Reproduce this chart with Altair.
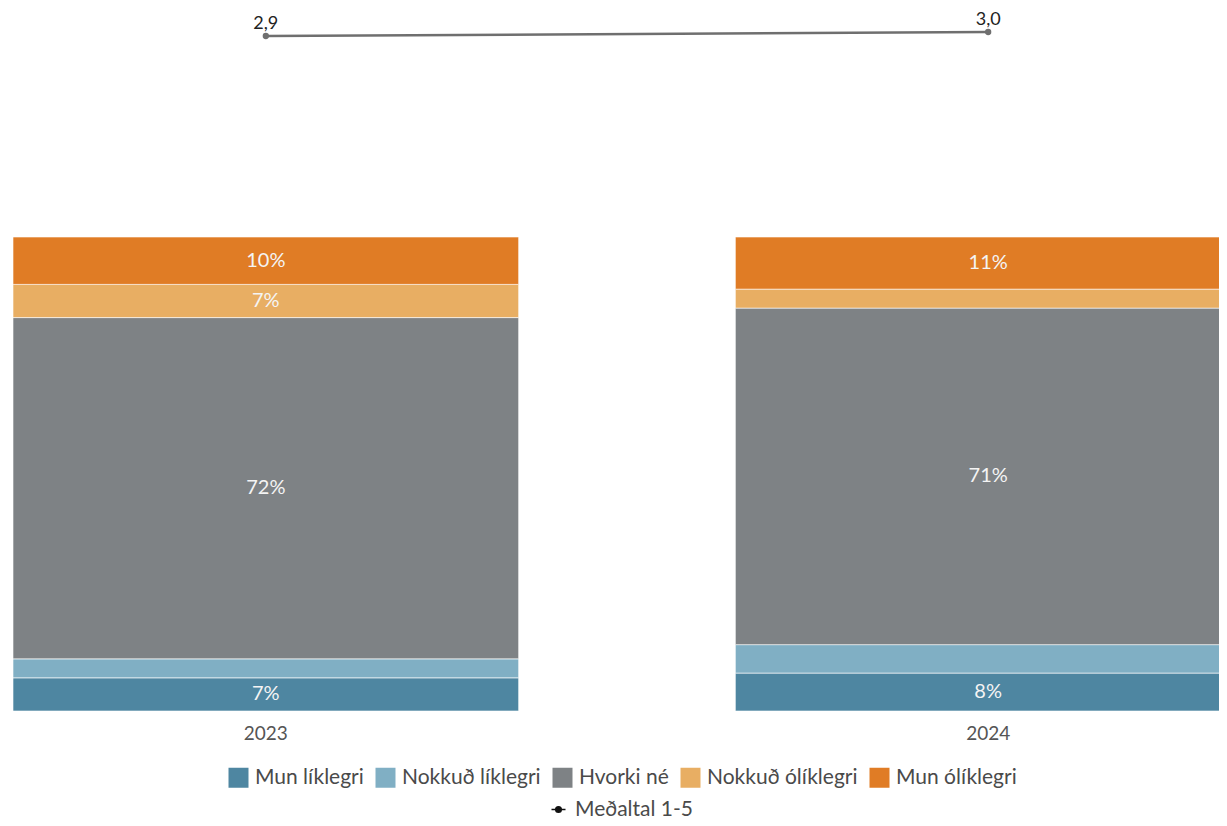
import altair as alt
import pandas as pd

years = ["2023", "2024"]
categories = ["Mun líklegri", "Nokkuð líklegri", "Hvorki né", "Nokkuð ólíklegri", "Mun ólíklegri"]
colors = ["#4e86a1", "#80afc4", "#7e8285", "#e8ae63", "#e07c25"]
values_2023 = [7, 4, 72, 7, 10]
values_2024 = [8, 6, 71, 4, 11]
means = [2.91, 2.96]
mean_labels = ["2,9", "3,0"]
mean_series = "Meðaltal 1-5"

rows = []
for yr, vals in zip(years, [values_2023, values_2024]):
    for i, (c, v) in enumerate(zip(categories, vals)):
        rows.append({"year": yr, "cat": c, "ord": i, "value": v, "label": f"{v}%"})
df = pd.DataFrame(rows)
mdf = pd.DataFrame({"year": years, "mean": means, "label": mean_labels,
                    "series": [mean_series] * len(years)})

FONT = "Lato"
W, H = 1206, 700

x = alt.X("year:N", sort=years,
          scale=alt.Scale(range=[0, 1228], paddingInner=0.3, paddingOuter=0),
          axis=alt.Axis(title=None, labelAngle=0, domain=False, ticks=False,
                        labelFontSize=19, labelColor="#555555", labelPadding=13,
                        labelFont=FONT))

ybar = alt.Scale(domain=[0, 100 * 700 / 474], nice=False, zero=False)
ymean = alt.Scale(domain=[-5.5275, 3.2225], nice=False, zero=False)

bars = alt.Chart(df).mark_bar(stroke="white", strokeWidth=0.6, clip=True).encode(
    x=x,
    y=alt.Y("value:Q", stack="zero", scale=ybar, axis=None),
    fill=alt.Fill("cat:N", sort=categories,
                  scale=alt.Scale(domain=categories, range=colors),
                  legend=alt.Legend(title=None, orient="none", direction="horizontal",
                                    legendX=215, legendY=756, symbolType="square",
                                    symbolSize=400, symbolStrokeWidth=0,
                                    labelFontSize=21, labelColor="#4a4a4a",
                                    labelFont=FONT, labelOffset=6, columnPadding=11)),
    order=alt.Order("ord:Q", sort="ascending"),
)

bar_text = alt.Chart(df).transform_stack(
    stack="value", groupby=["year"], sort=[alt.SortField("ord", order="ascending")],
    as_=["y0", "y1"]
).transform_calculate(
    mid="(datum.y0 + datum.y1) / 2"
).transform_filter(
    "datum.value >= 7"
).mark_text(color="#f4f4f4", fontSize=20, font=FONT).encode(
    x=x,
    y=alt.Y("mid:Q", scale=ybar, axis=None),
    text="label:N",
)

base = alt.Chart(mdf)
ym = alt.Y("mean:Q", scale=ymean, axis=None)
line = base.mark_line(color="#6f6f6f", strokeWidth=2.5).encode(x=x, y=ym)
pts = base.mark_circle(color="#6f6f6f", size=40, opacity=1).encode(x=x, y=ym)
lbl = base.mark_text(dy=-12, fontSize=18, color="#222222", font=FONT).encode(
    x=x, y=ym, text="label:N")
legend_line = base.transform_filter("false").mark_line(strokeWidth=1.5).encode(
    x=x, y=ym,
    stroke=alt.Stroke("series:N",
                      scale=alt.Scale(domain=[mean_series], range=["#111111"]),
                      legend=alt.Legend(title=None, orient="none", legendX=535, legendY=788,
                                        symbolType="M-1,0L1,0M-0.4,0A0.4,0.4,0,1,1,0.4,0A0.4,0.4,0,1,1,-0.4,0Z",
                                        symbolSize=196, symbolFillColor="#111111",
                                        symbolStrokeWidth=1.5,
                                        labelFontSize=21, labelColor="#4a4a4a",
                                        labelFont=FONT, labelOffset=6)),
)

chart = alt.layer(
    alt.layer(bars, bar_text),
    alt.layer(line, pts, lbl, legend_line),
).resolve_scale(y="independent", fill="independent", stroke="independent").properties(
    width=W, height=H,
    autosize=alt.AutoSizeParams(type="none"),
    padding={"left": 5, "top": 3, "right": 0, "bottom": 107},
).configure(font=FONT).configure_view(stroke=None)

chart.save("out.html", embed_options={"renderer": "svg", "actions": False})
